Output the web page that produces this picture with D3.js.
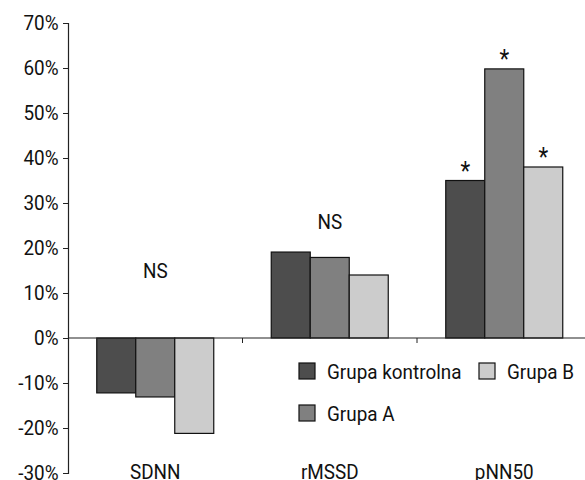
<!DOCTYPE html>
<html lang="pl">
<head>
<meta charset="UTF-8">
<title>SDNN / rMSSD / pNN50</title>
<script src="https://d3js.org/d3.v7.min.js"></script>
<style>
    body { margin: 0; background: #fff; }
    svg { display: block; }
    text { font-family: Roboto, "Liberation Sans", sans-serif; fill: #111; }
</style>
</head>
<body>
<svg id="chart"></svg>
<script>
    // data
    const categories = ["SDNN", "rMSSD", "pNN50"];
    const groups = ["Grupa kontrolna", "Grupa A", "Grupa B"];
    const kontrolna = [-12.2, 19.1, 35.0];
    const grupaA = [-13.1, 17.9, 59.8];
    const grupaB = [-21.2, 14.0, 38.0];
    const yTicks = [-30, -20, -10, 0, 10, 20, 30, 40, 50, 60, 70];
    const significance = ["NS", "NS", "*"];

    const colors = ["#4d4d4d", "#808080", "#cccccc"];
    const series = [kontrolna, grupaA, grupaB];
    const fs = 21;
    const sx = 0.9; // squeeze text a bit, the original uses a condensed face

    const width = 585, height = 480;
    const svg = d3.select("#chart").attr("width", width).attr("height", height);

    // condensed label helper
    function label(px, py, str, anchor) {
        return svg.append("text")
            .attr("transform", `translate(${px},${py}) scale(${sx},1)`)
            .attr("text-anchor", anchor || "start")
            .attr("font-size", fs)
            .text(str);
    }

    const x0 = 68, x1 = 591.5;
    const x = d3.scaleBand().domain(categories).range([x0, x1]);
    const y = d3.scaleLinear().domain([-30, 70]).range([473, 23]);

    // three bars take about 2/3 of each category
    const barW = x.bandwidth() * 117 / 174.5 / 3;
    const xs = d3.scaleBand().domain(groups).range([0, barW * 3]);

    // y axis
    const yAxis = svg.append("g").attr("transform", `translate(${x0},0)`)
        .call(d3.axisLeft(y).tickValues(yTicks).tickSize(5).tickPadding(4).tickFormat(d => d + "%"));
    yAxis.select(".domain").attr("stroke", "#222").attr("stroke-width", 1.2);
    yAxis.selectAll(".tick line").attr("stroke", "#222");
    yAxis.selectAll("text").attr("font-size", fs).attr("fill", "#111")
        .attr("x", -9.5 / sx)
        .attr("transform", `scale(${sx},1)`)
        .style("font-family", 'Roboto, "Liberation Sans", sans-serif');

    // bars
    categories.forEach((c, i) => {
        const left = x(c) + (x.bandwidth() - barW * 3) / 2;
        series.forEach((s, j) => {
            const v = s[i];
            svg.append("rect")
                .attr("x", left + xs(groups[j]))
                .attr("y", y(Math.max(0, v)))
                .attr("width", xs.bandwidth())
                .attr("height", Math.abs(y(v) - y(0)))
                .attr("fill", colors[j])
                .attr("stroke", "#111")
                .attr("stroke-width", 1.2);
        });
    });

    // x axis at zero with category ticks
    svg.append("line").attr("x1", x0).attr("x2", width).attr("y1", y(0)).attr("y2", y(0))
        .attr("stroke", "#222").attr("stroke-width", 1.2);
    categories.slice(1).forEach(c => {
        svg.append("line").attr("x1", x(c)).attr("x2", x(c))
            .attr("y1", y(0)).attr("y2", y(0) + 5).attr("stroke", "#222");
    });

    // category labels
    categories.forEach(c => label(x(c) + x.bandwidth() / 2, 479, c, "middle"));

    // NS labels
    label(x("SDNN") + x.bandwidth() / 2, 277.5, significance[0], "middle");
    label(x("rMSSD") + x.bandwidth() / 2, 229, significance[1], "middle");

    // asterisks over pNN50
    const pLeft = x("pNN50") + (x.bandwidth() - barW * 3) / 2;
    series.forEach((s, j) => {
        label(pLeft + xs(groups[j]) + xs.bandwidth() / 2, y(s[2]) - 1, significance[2], "middle")
            .attr("font-size", 25);
    });

    // legend
    const legendPos = [[299, 363], [299, 405], [479, 363]];
    groups.forEach((g, j) => {
        const [lx, ly] = legendPos[j];
        svg.append("rect").attr("x", lx).attr("y", ly).attr("width", 16).attr("height", 16)
            .attr("fill", colors[j]).attr("stroke", "#111").attr("stroke-width", 1.2);
        label(lx + 28, ly + 15.5, g);
    });
</script>
</body>
</html>
